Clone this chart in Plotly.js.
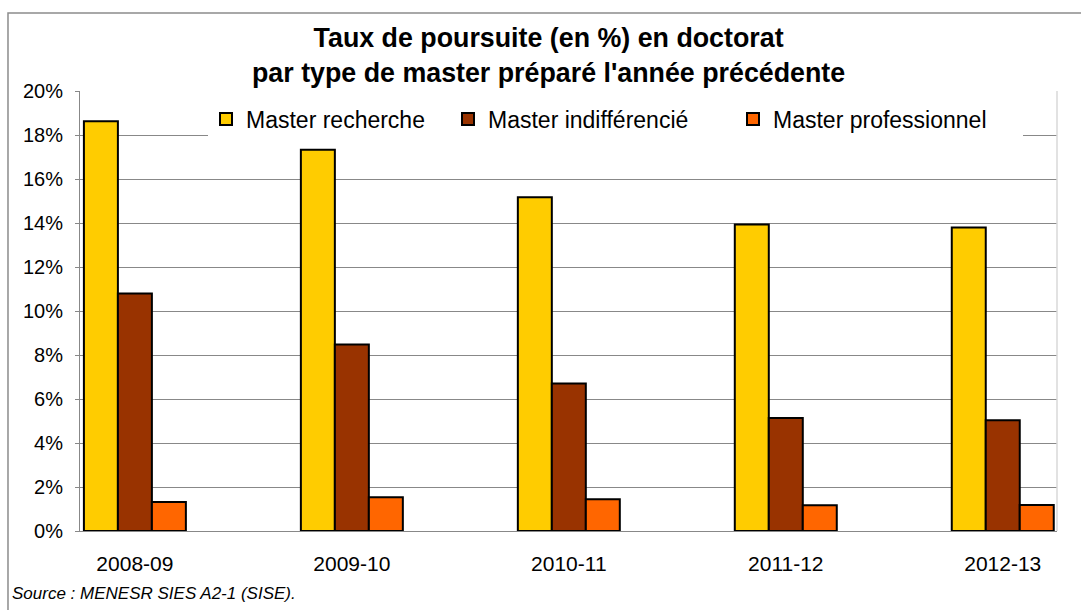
<!DOCTYPE html>
<html>
<head>
<meta charset="utf-8">
<script src="https://cdn.plot.ly/plotly-3.0.1.min.js"></script>
<style>
html,body{margin:0;padding:0;background:#fff;}
#chart{width:1081px;height:610px;}
</style>
</head>
<body>
<div id="chart"></div>
<script>
var categories = ["2008-09", "2009-10", "2010-11", "2011-12", "2012-13"];
var seriesNames = ["Master recherche", "Master indifférencié", "Master professionnel"];
var masterRecherche = [18.62, 17.33, 15.17, 13.93, 13.80];
var masterIndifferencie = [10.79, 8.48, 6.70, 5.14, 5.03];
var masterProfessionnel = [1.32, 1.53, 1.44, 1.17, 1.18];
var yTickValues = [0, 2, 4, 6, 8, 10, 12, 14, 16, 18, 20];
var yTickLabels = ["0%", "2%", "4%", "6%", "8%", "10%", "12%", "14%", "16%", "18%", "20%"];
var titleText = "<b>Taux de poursuite (en %) en doctorat</b><br><b>par type de master préparé l'année précédente</b>";
var sourceText = "Source : MENESR SIES A2-1 (SISE).";

var colors = ["#FFCC00", "#993300", "#FF6600"];
var values = [masterRecherche, masterIndifferencie, masterProfessionnel];
var legendIds = ["legend", "legend2", "legend3"];
var font = "Liberation Sans, Arial, sans-serif";

var traces = values.map(function (v, i) {
  return {
    type: "bar",
    name: seriesNames[i],
    x: categories,
    y: v,
    legend: legendIds[i],
    marker: {color: colors[i], line: {color: "#000000", width: 2}},
    hoverinfo: "skip"
  };
});

function makeLegend(px) {
  return {
    orientation: "h",
    xref: "paper", yref: "paper",
    x: (px - 80) / 977, xanchor: "left",
    y: 0.985, yanchor: "top",
    bgcolor: "rgba(0,0,0,0)",
    borderwidth: 0,
    itemwidth: 30,
    font: {family: font, size: 23, color: "#000000"},
    itemclick: false,
    itemdoubleclick: false
  };
}

var layout = {
  width: 1081,
  height: 610,
  margin: {l: 80, r: 24, t: 91, b: 79},
  paper_bgcolor: "#ffffff",
  plot_bgcolor: "#ffffff",
  barmode: "group",
  bargap: 0.53,
  bargroupgap: 0,
  font: {family: font, color: "#000000", size: 20},
  xaxis: {
    type: "category",
    range: [-0.253, 4.25],
    showgrid: false,
    showline: true,
    linecolor: "#888888",
    linewidth: 1,
    ticks: "outside",
    ticklen: 14,
    tickcolor: "rgba(0,0,0,0)",
    tickfont: {family: font, size: 21, color: "#000000"},
    zeroline: false,
    fixedrange: true
  },
  yaxis: {
    range: [0, 20],
    tickvals: yTickValues,
    ticktext: yTickLabels,
    showgrid: true,
    gridcolor: "#888888",
    gridwidth: 1,
    showline: true,
    linecolor: "#888888",
    linewidth: 1,
    ticks: "outside",
    ticklen: 4,
    tickcolor: "#888888",
    ticklabelstandoff: 8,
    tickfont: {family: font, size: 20, color: "#000000"},
    zeroline: false,
    fixedrange: true
  },
  showlegend: true,
  legend: makeLegend(206),
  legend2: makeLegend(448),
  legend3: makeLegend(733),
  shapes: [
    {type: "rect", xref: "paper", yref: "paper",
     x0: -0.0737, x1: 1.04, y0: -0.2, y1: 1.177,
     line: {color: "#8c8c8c", width: 1.5}, fillcolor: "rgba(0,0,0,0)", layer: "below"},
    {type: "rect", xref: "paper", yref: "paper",
     x0: (208 - 80) / 977, x1: (1023 - 80) / 977, y0: (531 - 141) / 440, y1: (531 - 93) / 440,
     line: {width: 0}, fillcolor: "#ffffff", layer: "above"},
    {type: "line", xref: "paper", yref: "paper",
     x0: 1, x1: 1, y0: 0, y1: 1,
     line: {color: "#d9d9d9", width: 1.5}}
  ],
  annotations: [
    {text: titleText, xref: "paper", yref: "paper",
     x: (548 - 80) / 977, xanchor: "center", y: (531 - 56) / 440, yanchor: "middle",
     showarrow: false,
     font: {family: font, size: 26.8, color: "#000000"}},
    {text: sourceText, xref: "paper", yref: "paper",
     x: -0.0716, xanchor: "left", y: -0.143, yanchor: "middle",
     showarrow: false,
     font: {family: font, size: 17, color: "#000000", style: "italic"}}
  ]
};

Plotly.newPlot("chart", traces, layout, {displayModeBar: false, staticPlot: true});
</script>
</body>
</html>
